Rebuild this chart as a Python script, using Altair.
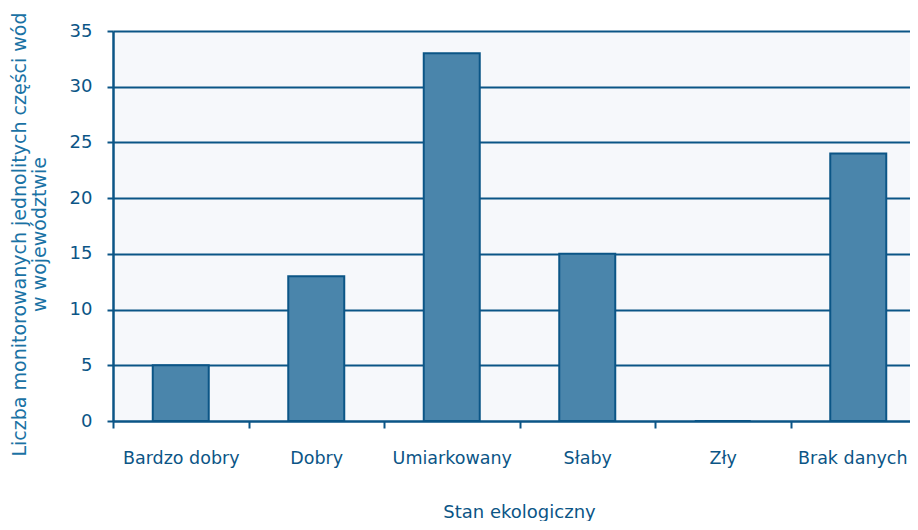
import altair as alt
import pandas as pd

categories = ["Bardzo dobry", "Dobry", "Umiarkowany", "Słaby", "Zły", "Brak danych"]
values = [5, 13, 33, 15, 0, 24]
y_ticks = [0, 5, 10, 15, 20, 25, 30, 35]

df = pd.DataFrame({"stan": categories, "liczba": values})
df["pos"] = [i + 0.5 for i in range(len(categories))]

DARK = "#0b5586"
TITLE = "#1a72a4"
FONT = "DejaVu Sans"
STEP_PX = 135.5
WIDTH = 797

label_expr = "[" + ",".join("'" + c + "'" for c in categories) + "][floor(datum.value)]"

chart = (
    alt.Chart(df)
    .mark_bar(width=56, color="#4a85ab", stroke=DARK, strokeWidth=2)
    .encode(
        x=alt.X(
            "pos:Q",
            scale=alt.Scale(domain=[0, WIDTH / STEP_PX], nice=False, zero=False, padding=0),
            axis=alt.Axis(
                title="Stan ekologiczny",
                values=df["pos"].tolist(),
                labelExpr=label_expr,
                labelAngle=0,
                tickOffset=-STEP_PX / 2,
                labelOffset={
                    "condition": {"test": "datum.value > 5", "value": STEP_PX / 2 - 6},
                    "value": STEP_PX / 2,
                },
                tickSize=7,
                tickWidth=2,
                tickColor=DARK,
                domainColor=DARK,
                domainWidth=2,
                labelColor=DARK,
                labelFont=FONT,
                labelFontSize=17.5,
                labelBaseline="alphabetic",
                labelPadding=35,
                labelFlush=False,
                labelOverlap=False,
                titleColor=DARK,
                titleFont=FONT,
                titleFontSize=18,
                titleFontWeight="normal",
                titleX=406,
                titleY=96,
                titleBaseline="alphabetic",
                grid=False,
            ),
        ),
        y=alt.Y(
            "liczba:Q",
            scale=alt.Scale(domain=[0, 35], nice=False),
            axis=alt.Axis(
                title=["Liczba monitorowanych jednolitych części wód", "w województwie"],
                values=y_ticks,
                tickSize=6,
                tickWidth=2,
                tickColor=DARK,
                domainColor=DARK,
                domainWidth=2.5,
                gridColor=DARK,
                gridWidth=2,
                gridOpacity=1,
                labelColor=DARK,
                labelFont=FONT,
                labelFontSize=18,
                labelPadding=15,
                titleColor=TITLE,
                titleFont=FONT,
                titleFontSize=19,
                titleFontWeight="normal",
                titleLineHeight=20,
                titleAngle=-90,
                titleX=-103,
                titleY=203,
                titleAlign="center",
                titleBaseline="top",
            ),
        ),
    )
    .properties(
        width=WIDTH,
        height=390,
        autosize=alt.AutoSizeParams(type="none"),
        padding={"left": 105, "top": 23, "right": 0, "bottom": 100},
        background="white",
    )
    .configure_view(fill="#f6f8fb", stroke=None)
)

chart.save("out.html", embed_options={"renderer": "svg", "actions": False})
